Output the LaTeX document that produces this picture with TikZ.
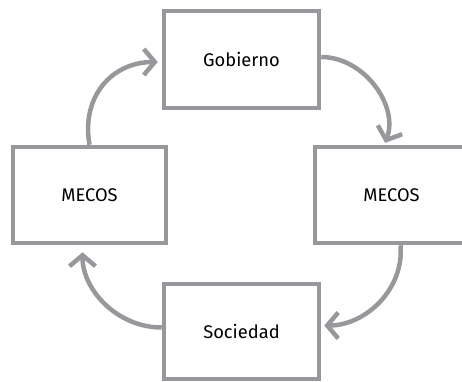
\documentclass[tikz,border=0pt]{standalone}
\usepackage{fontspec}
\setmainfont{Fira Sans}
\usetikzlibrary{arrows.meta}
\definecolor{lg}{HTML}{98989C}
\begin{document}
\begin{tikzpicture}[x=1pt,y=1pt,
  box/.style={draw=lg,line width=4.5pt,inner sep=0pt,minimum width=155pt,minimum height=97pt,font=\fontsize{18.3}{22}\selectfont,text=black},
  arr/.style={draw=lg,line width=4.5pt,-{Straight Barb[length=11pt,width=26pt]}}]
\useasboundingbox (0,0) rectangle (462,-381);
\clip (0,0) rectangle (462,-381);
\node[box] (gob) at (241.5,-59.5) {Gobierno};
\node[box,minimum width=153pt,minimum height=96pt] (lm) at (89.5,-195) {MECOS};
\node[box,minimum width=153pt,minimum height=96pt] (rm) at (391.5,-195) {MECOS};
\node[box,minimum height=95pt] (soc) at (241.5,-331.5) {Sociedad};
\draw[arr,shorten >=4pt] (lm.north) to[out=100,in=180,looseness=1.15] ([yshift=-2.5pt]gob.west);
\draw[arr,shorten >=2pt] ([yshift=2.5pt]gob.east) to[out=0,in=70] ([xshift=-7pt]rm.north);
\draw[arr,shorten >=3pt] ([xshift=9pt]rm.south) to[out=-85,in=0] ([yshift=6pt]soc.east);
\draw[arr,shorten >=7pt] ([yshift=4pt]soc.west) to[out=180,in=-90] ([xshift=-7pt]lm.south);
\end{tikzpicture}
\end{document}
